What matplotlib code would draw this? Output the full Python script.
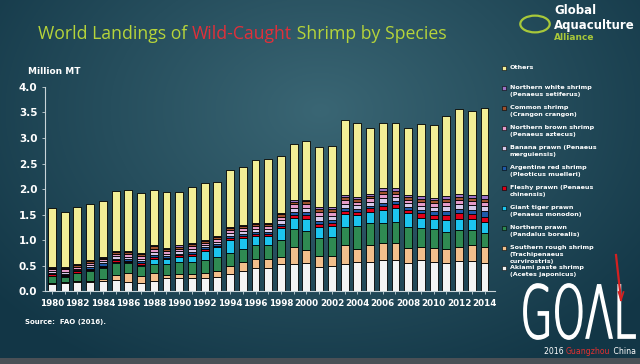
import numpy as np
import matplotlib.pyplot as plt
from matplotlib.patches import Circle, PathPatch
from matplotlib.textpath import TextPath
from matplotlib.font_manager import FontProperties
from matplotlib.transforms import Affine2D

years = list(range(1980, 2015))

# million MT (bottom to top of each stack)
akiami = [0.13, 0.15, 0.17, 0.17, 0.20, 0.22, 0.18, 0.16, 0.20, 0.25, 0.25, 0.25,
          0.25, 0.28, 0.33, 0.40, 0.46, 0.46, 0.52, 0.52, 0.54, 0.48, 0.49, 0.53,
          0.57, 0.57, 0.61, 0.61, 0.55, 0.61, 0.57, 0.55, 0.59, 0.59, 0.55]
southern_rough = [0.02, 0.02, 0.02, 0.03, 0.04, 0.09, 0.17, 0.13, 0.15, 0.06, 0.08, 0.08,
                  0.10, 0.11, 0.17, 0.16, 0.16, 0.16, 0.15, 0.35, 0.26, 0.20, 0.19, 0.38,
                  0.25, 0.34, 0.34, 0.34, 0.30, 0.26, 0.28, 0.28, 0.28, 0.32, 0.32]
northern_prawn = [0.14, 0.11, 0.16, 0.20, 0.22, 0.24, 0.19, 0.20, 0.18, 0.22, 0.24, 0.24,
                  0.26, 0.28, 0.25, 0.26, 0.29, 0.28, 0.33, 0.34, 0.38, 0.35, 0.38, 0.35,
                  0.45, 0.43, 0.39, 0.41, 0.41, 0.36, 0.36, 0.33, 0.32, 0.28, 0.26]
giant_tiger = [0.01, 0.01, 0.01, 0.01, 0.02, 0.02, 0.02, 0.02, 0.09, 0.09, 0.10, 0.12,
               0.18, 0.19, 0.25, 0.21, 0.17, 0.18, 0.23, 0.23, 0.24, 0.23, 0.22, 0.25,
               0.22, 0.21, 0.25, 0.26, 0.26, 0.21, 0.21, 0.23, 0.23, 0.22, 0.23]
fleshy = [0.03, 0.03, 0.03, 0.03, 0.02, 0.03, 0.03, 0.04, 0.05, 0.03, 0.03, 0.04,
          0.04, 0.03, 0.03, 0.04, 0.04, 0.04, 0.05, 0.06, 0.08, 0.06, 0.06, 0.06,
          0.06, 0.07, 0.08, 0.09, 0.07, 0.08, 0.08, 0.10, 0.10, 0.10, 0.10]
argentine = [0.02, 0.02, 0.02, 0.03, 0.04, 0.03, 0.03, 0.03, 0.04, 0.03, 0.03, 0.03,
             0.03, 0.03, 0.04, 0.04, 0.03, 0.03, 0.04, 0.05, 0.05, 0.06, 0.05, 0.05,
             0.05, 0.05, 0.06, 0.05, 0.05, 0.06, 0.06, 0.07, 0.08, 0.08, 0.10]
banana = [0.04, 0.04, 0.03, 0.04, 0.04, 0.05, 0.05, 0.05, 0.06, 0.05, 0.05, 0.06,
          0.05, 0.05, 0.06, 0.06, 0.06, 0.06, 0.07, 0.08, 0.08, 0.09, 0.08, 0.08,
          0.08, 0.08, 0.09, 0.08, 0.08, 0.09, 0.09, 0.10, 0.10, 0.10, 0.10]
northern_brown = [0.04, 0.05, 0.04, 0.04, 0.04, 0.04, 0.05, 0.05, 0.06, 0.05, 0.05, 0.06,
                  0.04, 0.05, 0.06, 0.06, 0.06, 0.06, 0.07, 0.07, 0.08, 0.08, 0.08, 0.08,
                  0.07, 0.07, 0.08, 0.07, 0.07, 0.08, 0.07, 0.08, 0.08, 0.07, 0.08]
common = [0.03, 0.03, 0.03, 0.04, 0.03, 0.04, 0.04, 0.04, 0.05, 0.04, 0.04, 0.05,
          0.04, 0.04, 0.05, 0.05, 0.05, 0.05, 0.05, 0.05, 0.05, 0.06, 0.06, 0.06,
          0.06, 0.05, 0.06, 0.05, 0.05, 0.06, 0.06, 0.07, 0.07, 0.07, 0.07]
northern_white = [0.02, 0.02, 0.02, 0.02, 0.02, 0.02, 0.02, 0.02, 0.02, 0.03, 0.03, 0.02,
                  0.02, 0.02, 0.02, 0.02, 0.02, 0.02, 0.02, 0.03, 0.03, 0.04, 0.04, 0.04,
                  0.04, 0.04, 0.05, 0.05, 0.04, 0.05, 0.05, 0.05, 0.05, 0.05, 0.07]
others = [1.14, 1.07, 1.12, 1.09, 1.10, 1.19, 1.20, 1.18, 1.08, 1.09, 1.04, 1.09,
          1.10, 1.06, 1.11, 1.13, 1.22, 1.24, 1.12, 1.11, 1.15, 1.18, 1.19, 1.47,
          1.45, 1.29, 1.29, 1.29, 1.32, 1.41, 1.42, 1.57, 1.66, 1.65, 1.71]

series = [
    (akiami, "#f4f4f4", "Akiami paste shrimp\n(Acetes japonicus)"),
    (southern_rough, "#f2bf8c", "Southern rough shrimp\n(Trachipenaeus\ncurvirostris)"),
    (northern_prawn, "#2f8a52", "Northern prawn\n(Pandalus borealis)"),
    (giant_tiger, "#1cc4ee", "Giant tiger prawn\n(Penaeus monodon)"),
    (fleshy, "#e00018", "Fleshy prawn (Penaeus\nchinensis)"),
    (argentine, "#1f5aa8", "Argentine red shrimp\n(Pleoticus muelleri)"),
    (banana, "#d6c8ea", "Banana prawn (Penaeus\nmerguiensis)"),
    (northern_brown, "#e59ac8", "Northern brown shrimp\n(Penaeus aztecus)"),
    (common, "#a0522d", "Common shrimp\n(Crangon crangon)"),
    (northern_white, "#9c72c4", "Northern white shrimp\n(Penaeus setiferus)"),
    (others, "#f2ee96", "Others"),
]

fig = plt.figure(figsize=(6.4, 3.64), dpi=100)

# slide background
bg = fig.add_axes([0, 0, 1, 1])
yy, xx = np.mgrid[0:364, 0:640]
d = np.sqrt(((xx - 320) / 420.0) ** 2 + ((yy - 110) / 300.0) ** 2)
d = np.clip(d, 0, 1)
c0 = np.array([0x3a, 0x66, 0x74]) / 255.0
c1 = np.array([0x12, 0x36, 0x46]) / 255.0
img = c0[None, None, :] * (1 - d[..., None]) + c1[None, None, :] * d[..., None]
img[358:, :, :] = np.array([0x4a, 0x50, 0x56]) / 255.0
bg.imshow(img, aspect="auto", extent=[0, 640, 364, 0])
bg.set_xlim(0, 640)
bg.set_ylim(364, 0)
bg.axis("off")

ax = fig.add_axes([0.0703, 0.2005, 0.7027, 0.5605])
ax.set_facecolor("none")
bottom = np.zeros(len(years))
for vals, col, lab in series:
    ax.bar(years, vals, width=0.62, bottom=bottom, color=col,
           edgecolor="black", linewidth=0.6)
    bottom += np.array(vals)

ax.set_xlim(1979.45, 2014.8)
ax.set_ylim(0, 4.0)
ax.set_yticks(np.arange(0, 4.01, 0.5))
ax.set_yticklabels(["%.1f" % v for v in np.arange(0, 4.01, 0.5)])
ax.set_xticks(years)
ax.set_xticklabels([str(y) if y % 2 == 0 else "" for y in years])
for s in ["top", "right"]:
    ax.spines[s].set_visible(False)
for s in ["left", "bottom"]:
    ax.spines[s].set_color("#c8d4d8")
    ax.spines[s].set_linewidth(0.8)
ax.tick_params(colors="#c8d4d8", length=2, width=0.6)
for t in ax.get_xticklabels():
    t.set_color("white")
    t.set_fontsize(6.3)
    t.set_fontweight("bold")
for t in ax.get_yticklabels():
    t.set_color("white")
    t.set_fontsize(7.5)
    t.set_fontweight("bold")

fig.text(28 / 640, 1 - 72 / 364, "Million MT", color="white", fontsize=6.5,
         fontweight="bold", va="center")

# legend on the right, top entry first
leg_y = [68, 88, 108, 128, 148, 168, 188, 208, 228, 248, 268]
for (vals, col, lab), ly in zip(series[::-1], leg_y):
    fig.patches.append(plt.Rectangle((502 / 640, 1 - (ly + 2) / 364), 4 / 640, 4 / 364,
                                     transform=fig.transFigure, facecolor=col,
                                     edgecolor="black", linewidth=0.4))
    fig.text(510 / 640, 1 - (ly - 3) / 364, lab, color="white", fontsize=4.6,
             fontweight="bold", va="top", linespacing=1.45)

# title
t1 = fig.text(38 / 640, 1 - 34 / 364, "World Landings of ", color="#b6d43a", fontsize=12.7,
              va="center", family="Open Sans")
fig.canvas.draw()
r = fig.canvas.get_renderer()
bb = t1.get_window_extent(r)
t2 = fig.text(bb.x1 / 640, 1 - 34 / 364, "Wild-Caught", color="#e0303a", fontsize=12.7,
              va="center", family="Open Sans")
bb2 = t2.get_window_extent(r)
fig.text(bb2.x1 / 640, 1 - 34 / 364, " Shrimp by Species", color="#b6d43a", fontsize=12.7,
         va="center", family="Open Sans")

# GAA logo
fig.patches.append(Circle((535 / 640, 1 - 24 / 364), 0.023, transform=fig.transFigure,
                          facecolor="none", edgecolor="#a8c83a", linewidth=1.6))
fig.text(554 / 640, 1 - 11 / 364, "Global", color="white", fontsize=8.5,
         fontweight="bold", va="center")
fig.text(554 / 640, 1 - 25 / 364, "Aquaculture", color="white", fontsize=8.5,
         fontweight="bold", va="center")
fig.text(554 / 640, 1 - 38 / 364, "Alliance", color="#a8c83a", fontsize=6.5,
         fontweight="bold", va="center")

# source
fig.text(25 / 640, 1 - 322 / 364, "Source:  FAO (2016).", color="white", fontsize=5,
         fontweight="bold", va="center")

# GOAL logo, stretched into its box
tp = TextPath((0, 0), "GOΛL", size=1, prop=FontProperties(family="DejaVu Sans", weight="light"))
ext = tp.get_extents()
x0, x1, y0, y1 = 524, 635, 284, 339
tr = Affine2D().translate(-ext.x0, -ext.y0).scale((x1 - x0) / ext.width,
                                                  -(y1 - y0) / ext.height).translate(x0, y1)
bg.add_patch(PathPatch(tr.transform_path(tp), facecolor="white", edgecolor="white",
                       linewidth=1.3))
bg.plot([616, 621], [255, 300], color="#d42020", linewidth=1.6)
bg.plot([618.5, 621, 623.5], [292, 300, 292], color="#d42020", linewidth=1.2)

g1 = fig.text(544 / 640, 1 - 352 / 364, "2016 ", color="white", fontsize=5.6,
              va="center")
bb = g1.get_window_extent(r)
g2 = fig.text(bb.x1 / 640, 1 - 352 / 364, "Guangzhou", color="#e03030", fontsize=5.6,
              va="center")
bb = g2.get_window_extent(r)
fig.text(bb.x1 / 640, 1 - 352 / 364, " China", color="white", fontsize=5.6, va="center")

fig.savefig("out.png", dpi=100)
